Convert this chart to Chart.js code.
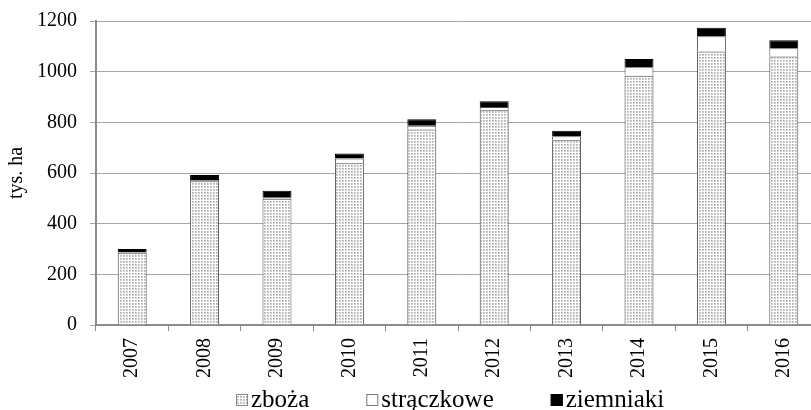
<!DOCTYPE html>
<html>
<head>
<meta charset="utf-8">
<script src="https://cdn.jsdelivr.net/npm/chart.js@4/dist/chart.umd.min.js"></script>
<style>
  html, body { margin: 0; padding: 0; background: #ffffff; overflow: hidden; }
  #wrap { width: 822px; height: 410px; position: relative; }
</style>
</head>
<body>
<div id="wrap"><canvas id="c"></canvas></div>
<script>
// Years on the category axis
const years = ['2007', '2008', '2009', '2010', '2011', '2012', '2013', '2014', '2015', '2016'];
// Area by crop group, thousand hectares
const zboza = [285, 567, 498, 638, 772, 848, 729, 984, 1080, 1060];
const straczkowe = [3, 5, 4, 19, 15, 13, 16, 33, 60, 32];
const ziemniaki = [12, 20, 28, 20, 25, 22, 22, 33, 33, 32];
// Value axis ticks
const yTicks = [0, 200, 400, 600, 800, 1000, 1200];

// Small dotted tile used as the fill of the cereals series
function dotPattern() {
  const t = document.createElement('canvas');
  t.width = 3; t.height = 3;
  const g = t.getContext('2d');
  g.fillStyle = '#ffffff';
  g.fillRect(0, 0, 3, 3);
  g.fillStyle = '#cdcdcd';
  g.fillRect(0, 0, 2, 2);
  g.fillStyle = '#a9a9a9';
  g.fillRect(0, 0, 1, 1);
  return g.createPattern(t, 'repeat');
}

const serif = '"Liberation Serif", "Times New Roman", serif';
const dots = dotPattern();

// Legend row under the axis: small square swatch followed closely by the label
const legendRow = {
  id: 'legendRow',
  afterDraw(chart) {
    const ctx = chart.ctx;
    const box = 12, gap = 3, spacing = 57, baseline = 407;
    ctx.save();
    ctx.font = '25px ' + serif;
    const items = chart.data.datasets.map(ds => ({
      text: ds.label,
      fill: ds.backgroundColor,
      stroke: ds.legendStroke,
      w: ctx.measureText(ds.label).width
    }));
    const total = items.reduce((s, it) => s + box + gap + it.w, 0) + spacing * (items.length - 1);
    const ca = chart.chartArea;
    let x = Math.round((ca.left + ca.right) / 2 - 8 - total / 2);
    items.forEach(it => {
      ctx.fillStyle = it.fill;
      ctx.fillRect(x, baseline - 13, box, box);
      ctx.strokeStyle = it.stroke;
      ctx.lineWidth = 1;
      ctx.strokeRect(x + 0.5, baseline - 12.5, box - 1, box - 1);
      ctx.fillStyle = '#000000';
      ctx.textBaseline = 'alphabetic';
      ctx.textAlign = 'left';
      ctx.fillText(it.text, x + box + gap, baseline);
      x += box + gap + it.w + spacing;
    });
    ctx.restore();
  }
};

new Chart(document.getElementById('c'), {
  type: 'bar',
  data: {
    labels: years,
    datasets: [
      { label: 'zboża', data: zboza, backgroundColor: dots, borderColor: '#4a4a4a', borderWidth: 1, legendStroke: '#8a8a8a' },
      { label: 'strączkowe', data: straczkowe, backgroundColor: '#ffffff', borderColor: '#4a4a4a', borderWidth: 1, legendStroke: '#7a7a7a' },
      { label: 'ziemniaki', data: ziemniaki, backgroundColor: '#000000', borderColor: '#000000', borderWidth: 1, legendStroke: '#000000' }
    ]
  },
  plugins: [legendRow],
  options: {
    responsive: true,
    maintainAspectRatio: false,
    animation: false,
    devicePixelRatio: 1,
    layout: { padding: { top: 21, right: 2, left: 5, bottom: 33 } },
    datasets: { bar: { categoryPercentage: 1.0, barPercentage: 0.4 } },
    plugins: {
      tooltip: { enabled: false },
      legend: { display: false }
    },
    scales: {
      x: {
        stacked: true,
        grid: { display: true, drawOnChartArea: false, drawTicks: true, tickLength: 6, color: '#8c8c8c', offset: true },
        border: { display: true, color: '#8c8c8c', width: 2 },
        ticks: { color: '#000000', font: { family: serif, size: 20 }, minRotation: 90, maxRotation: 90, padding: 7 },
        afterFit(s) { s.height = 52; }
      },
      y: {
        stacked: true,
        min: 0,
        max: 1200,
        afterBuildTicks(s) { s.ticks = yTicks.map(v => ({ value: v })); },
        grid: { color: '#a6a6a6', lineWidth: 1, drawTicks: true, tickLength: 6 },
        border: { display: true, color: '#8c8c8c', width: 2 },
        ticks: { color: '#000000', font: { family: serif, size: 20 }, padding: 13, callback: v => String(v) },
        title: { display: true, text: 'tys. ha', color: '#000000', font: { family: serif, size: 20 }, padding: { top: 0, bottom: 4 } },
        afterFit(s) { s.width = 91; s.paddingTop = 0; s.paddingBottom = 0; }
      }
    }
  }
});
</script>
</body>
</html>
